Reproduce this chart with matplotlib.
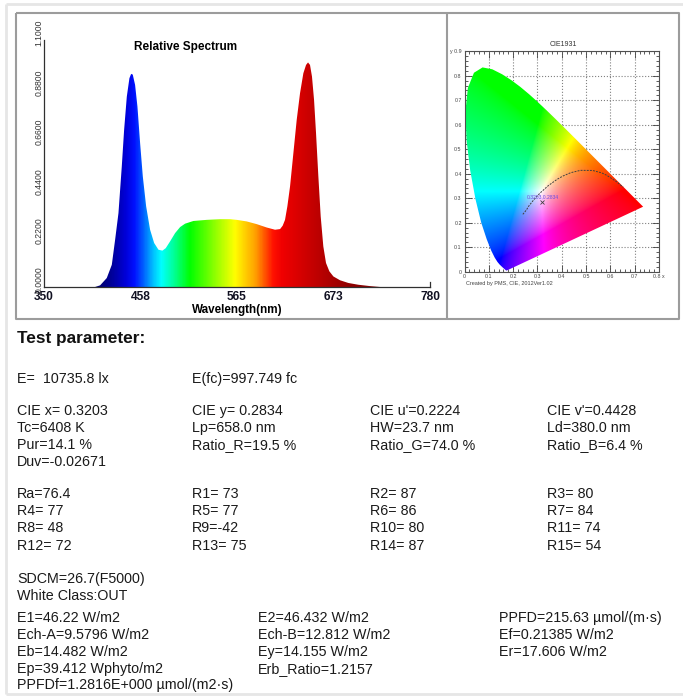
import numpy as np
import matplotlib
matplotlib.use('Agg')
import matplotlib.pyplot as plt
from matplotlib.colors import LinearSegmentedColormap
from matplotlib.patches import Polygon
from matplotlib.lines import Line2D

plt.rcParams['font.family'] = ['Liberation Sans', 'DejaVu Sans']

# ---------------- data ----------------
WL = [350, 407.4, 413.0, 420.4, 426.0, 429.7, 433.4, 437.1, 439.7, 442.7, 445.6, 447.5, 449.3,
      451.9, 454.5, 457.5, 460.5, 464.2, 468.6, 473.1, 477.9, 482.3, 486.0, 490.8, 496.4,
      502.0, 507.5, 516.8, 531.6, 546.4, 557.6, 565.0, 576.1, 587.2, 598.3, 607.6, 613.2,
      616.1, 618.7, 621.3, 624.3, 628.0, 631.7, 635.4, 639.1, 642.1, 644.3, 646.5, 648.7,
      651.0, 653.2, 655.8, 658.4, 661.3, 664.3, 668.0, 672.5, 679.9, 689.1, 700.3, 713.2,
      724.4, 780]
REL = [0, 0, 0.0074, 0.040, 0.099, 0.211, 0.329, 0.537, 0.700, 0.848, 0.930, 0.949, 0.946,
       0.900, 0.804, 0.640, 0.492, 0.359, 0.255, 0.196, 0.166, 0.162, 0.173, 0.203, 0.240,
       0.267, 0.282, 0.294, 0.299, 0.302, 0.302, 0.299, 0.292, 0.280, 0.265, 0.255, 0.258,
       0.273, 0.299, 0.359, 0.448, 0.596, 0.744, 0.863, 0.952, 0.989, 1.0, 0.989, 0.937,
       0.833, 0.685, 0.492, 0.314, 0.181, 0.107, 0.070, 0.047, 0.030, 0.018, 0.010, 0.004,
       0, 0]
X_TICKS = [350, 458, 565, 673, 780]
Y_TICKS = [0.0, 0.22, 0.44, 0.66, 0.88, 1.1]
Y_TICK_LABELS = ['0.0000', '0.2200', '0.4400', '0.6600', '0.8800', '1.1000']

# wavelength colour stops of the spectrum fill
CW = [350, 410, 425, 440, 450, 460, 470, 480, 495, 512, 540, 562, 585, 605, 615, 640, 665, 690, 720, 780]
CC = ['#000060', '#000070', '#00009a', '#0000d8', '#0010ff', '#0060ff', '#00b8ff', '#00ffff',
      '#00ff90', '#00ff00', '#90ff00', '#ffff00', '#ffa000', '#ff1000', '#f00000', '#d00000',
      '#b00000', '#900000', '#800000', '#700000']

# CIE 1931 spectral locus (x, y)
LOCUS_X = [0.1741, 0.1733, 0.1726, 0.1714, 0.1689, 0.1644, 0.1566, 0.1440, 0.1355, 0.1241,
           0.1096, 0.0913, 0.0687, 0.0454, 0.0235, 0.0082, 0.0039, 0.0139, 0.0389, 0.0743,
           0.1142, 0.1547, 0.1929, 0.2296, 0.2658, 0.3016, 0.3373, 0.3731, 0.4087, 0.4441,
           0.4788, 0.5125, 0.5448, 0.5752, 0.6029, 0.6270, 0.6658, 0.6915, 0.7079, 0.7190,
           0.7260, 0.7300, 0.7334, 0.7347]
LOCUS_Y = [0.0050, 0.0048, 0.0048, 0.0051, 0.0069, 0.0109, 0.0177, 0.0297, 0.0399, 0.0578,
           0.0868, 0.1327, 0.2007, 0.2950, 0.4127, 0.5384, 0.6548, 0.7502, 0.8120, 0.8338,
           0.8262, 0.8059, 0.7816, 0.7543, 0.7243, 0.6923, 0.6589, 0.6245, 0.5896, 0.5547,
           0.5202, 0.4866, 0.4544, 0.4242, 0.3965, 0.3725, 0.3340, 0.3083, 0.2920, 0.2809,
           0.2740, 0.2700, 0.2666, 0.2653]
# Planckian locus (x, y)
PLANCK_X = [0.2399, 0.2548, 0.2637, 0.2807, 0.2952, 0.3135, 0.3451, 0.3805, 0.4053, 0.4369,
            0.4770, 0.5267, 0.5643, 0.5857, 0.6251, 0.6528]
PLANCK_Y = [0.2341, 0.2522, 0.2672, 0.2884, 0.3048, 0.3236, 0.3516, 0.3768, 0.3907, 0.4041,
            0.4137, 0.4133, 0.4034, 0.3931, 0.3674, 0.3445]
POINT_X, POINT_Y = 0.3203, 0.2834
CIE_TICKS_X = [0, 0.1, 0.2, 0.3, 0.4, 0.5, 0.6, 0.7, 0.8]
CIE_TICKS_Y = [0, 0.1, 0.2, 0.3, 0.4, 0.5, 0.6, 0.7, 0.8, 0.9]
CIE_LABELS_X = ['0', '0.1', '0.2', '0.3', '0.4', '0.5', '0.6', '0.7', '0.8 x']
CIE_LABELS_Y = ['0', '0.1', '0.2', '0.3', '0.4', '0.5', '0.6', '0.7', '0.8', 'y 0.9']

HEADER = 'Test parameter:'
ROW_E = ['E=  10735.8 lx', 'E(fc)=997.749 fc']
CIE_ROWS = [['CIE x= 0.3203', 'CIE y= 0.2834', "CIE u'=0.2224", "CIE v'=0.4428"],
            ['Tc=6408 K', 'Lp=658.0 nm', 'HW=23.7 nm', 'Ld=380.0 nm'],
            ['Pur=14.1 %', 'Ratio_R=19.5 %', 'Ratio_G=74.0 %', 'Ratio_B=6.4 %'],
            ['Duv=-0.02671']]
CRI_ROWS = [['Ra=76.4', 'R1= 73', 'R2= 87', 'R3= 80'],
            ['R4= 77', 'R5= 77', 'R6= 86', 'R7= 84'],
            ['R8= 48', 'R9=-42', 'R10= 80', 'R11= 74'],
            ['R12= 72', 'R13= 75', 'R14= 87', 'R15= 54']]
SDCM_ROWS = ['SDCM=26.7(F5000)', 'White Class:OUT']
RAD_ROWS = [['E1=46.22 W/m2', 'E2=46.432 W/m2', 'PPFD=215.63 \u00b5mol/(m\u00b7s)'],
            ['Ech-A=9.5796 W/m2', 'Ech-B=12.812 W/m2', 'Ef=0.21385 W/m2'],
            ['Eb=14.482 W/m2', 'Ey=14.155 W/m2', 'Er=17.606 W/m2'],
            ['Ep=39.412 Wphyto/m2', 'Erb_Ratio=1.2157'],
            ['PPFDf=1.2816E+000 \u00b5mol/(m2\u00b7s)']]

# ---------------- figure ----------------
W, H = 683, 696
fig = plt.figure(figsize=(W / 100, H / 100), dpi=100)
fig.patch.set_facecolor('white')


def fx(px):
    return px / W


def fy(py):
    return 1 - py / H


def fline(xs, ys, color, lw):
    fig.add_artist(Line2D([fx(v) for v in xs], [fy(v) for v in ys], color=color, lw=lw,
                          transform=fig.transFigure, solid_capstyle='butt'))


# outer light frame
fline([6, 6], [4, 694], '#e6e6e6', 2)
fline([6, 683], [4, 4], '#e6e6e6', 2)
fline([6, 683], [694, 694], '#e6e6e6', 2)
# top box
fline([15.5, 679, 679, 15.5, 15.5], [12.5, 12.5, 319, 319, 12.5], '#9c9c9c', 1.5)
fline([447, 447], [12.5, 319], '#9c9c9c', 1.5)

# ---------------- spectrum ----------------
ax = fig.add_axes([fx(43.5), fy(287), (430 - 43.5) / W, (287 - 40) / H])
ax.set_xlim(350, 780)
ax.set_ylim(0, 1.1)
cmap = LinearSegmentedColormap.from_list('spec', [((w - 350) / 430, c) for w, c in zip(CW, CC)])
grad = cmap(np.linspace(0, 1, 860))[None, :, :]
verts = list(zip(WL, REL)) + [(WL[-1], 0), (WL[0], 0)]
patch = Polygon(verts, closed=True, facecolor='none', edgecolor='none', transform=ax.transData)
ax.add_patch(patch)
im = ax.imshow(grad, extent=[350, 780, 0, 1.1], aspect='auto', origin='lower', interpolation='bilinear')
im.set_clip_path(patch)
for s in ['top', 'right']:
    ax.spines[s].set_visible(False)
for s in ['left', 'bottom']:
    ax.spines[s].set_color('#303030')
    ax.spines[s].set_linewidth(0.9)
ax.set_xticks(X_TICKS)
ax.set_xticklabels([str(t) for t in X_TICKS], fontsize=8.6, fontweight='bold', color='#111122')
ax.tick_params(axis='x', length=0, pad=3)
ax.set_yticks([])
for v, lab in zip(Y_TICKS, Y_TICK_LABELS):
    ax.annotate(lab, xy=(0, v), xycoords=('axes fraction', 'data'), xytext=(-3.3, 5),
                textcoords='offset points', rotation=90, ha='center', va='center',
                fontsize=6.2, color='#333333', annotation_clip=False)
ax.add_line(Line2D([780, 780], [0, 0.022], color='#303030', lw=0.9, clip_on=False))
fig.text(fx(186), fy(47), 'Relative Spectrum', ha='center', va='center', fontsize=8.5, fontweight='bold')
fig.text(fx(237), fy(309.5), 'Wavelength(nm)', ha='center', va='center', fontsize=8.4, fontweight='bold')

# ---------------- CIE 1931 ----------------
cax = fig.add_axes([fx(464.5), fy(271.7), (659 - 464.5) / W, (271.7 - 51.2) / H])
cax.set_xlim(0, 0.8)
cax.set_ylim(0, 0.9)
cax.set_axisbelow(True)
gx = np.linspace(0, 0.8, 320)
gy = np.linspace(0, 0.9, 360)
GX, GY = np.meshgrid(gx, gy)
GYc = np.clip(GY, 1e-3, None)
XX = GX / GYc
ZZ = (1 - GX - GY) / GYc
R = 3.2406 * XX - 1.5372 - 0.4986 * ZZ
G = -0.9689 * XX + 1.8758 + 0.0415 * ZZ
B = 0.0557 * XX - 0.2040 + 1.0570 * ZZ
rgb = np.clip(np.dstack([R, G, B]), 0, None)
rgb = rgb / np.clip(rgb.max(axis=2, keepdims=True), 1e-6, None)
rgb = np.clip(np.power(rgb, 1 / 1.5), 0, 1)
locus = Polygon(list(zip(LOCUS_X, LOCUS_Y)), closed=True, facecolor='none', edgecolor='none',
                transform=cax.transData)
cax.add_patch(locus)
cim = cax.imshow(rgb, extent=[0, 0.8, 0, 0.9], origin='lower', aspect='auto', interpolation='bilinear', zorder=2)
cim.set_clip_path(locus)
cax.grid(True, linestyle=':', color='#808080', lw=0.8)
cax.plot(PLANCK_X, PLANCK_Y, linestyle=(0, (2, 1.2)), color='#404040', lw=0.7, zorder=3)
cax.plot([POINT_X], [POINT_Y], marker='x', ms=2.5, mew=0.6, color='#404040', zorder=4)
cax.text(POINT_X, POINT_Y + 0.022, f'{POINT_X},{POINT_Y}', ha='center', va='center', fontsize=3.6,
         color='#6a50e0', zorder=4)
cax.set_xticks(CIE_TICKS_X)
cax.set_yticks(CIE_TICKS_Y)
cax.set_xticklabels(CIE_LABELS_X)
cax.set_yticklabels(CIE_LABELS_Y)
cax.set_xticks(np.arange(0, 0.81, 0.02), minor=True)
cax.set_yticks(np.arange(0, 0.91, 0.02), minor=True)
cax.tick_params(which='both', direction='in', top=True, right=True, color='#404040', width=0.6,
                labelsize=3.8, labelcolor='#444444', pad=2)
cax.tick_params(which='major', length=5)
cax.tick_params(which='minor', length=2.5)
for s in cax.spines.values():
    s.set_color('#505050')
    s.set_linewidth(0.8)
fig.text(fx(563), fy(44), 'CIE1931', ha='center', va='center', fontsize=5, color='#333333')
fig.text(fx(466), fy(284), 'Created by PMS, CIE, 2012Ver1.02', ha='left', va='center', fontsize=4,
         color='#444444')

# ---------------- parameters text ----------------
TXT = dict(fontsize=10.3, color='#1a1a1a', ha='left', va='baseline')
BL = 5.2  # baseline offset below the visual centre line (px)
fig.text(fx(17), fy(337 + 6.2), HEADER, fontsize=12.4, fontweight='bold', color='#111111',
         ha='left', va='baseline')
COL4 = [17, 192, 370, 547]
COL3 = [17, 258, 499]
for x, s in zip(COL4, ROW_E):
    fig.text(fx(x), fy(378 + BL), s, **TXT)
for row, y in zip(CIE_ROWS, [410, 427, 444, 460.5]):
    for x, s in zip(COL4, row):
        fig.text(fx(x), fy(y + BL), s, **TXT)
for row, y in zip(CRI_ROWS, [493, 510, 527, 545]):
    for x, s in zip(COL4, row):
        fig.text(fx(x), fy(y + BL), s, **TXT)
for s, y in zip(SDCM_ROWS, [578, 595]):
    fig.text(fx(17), fy(y + BL), s, **TXT)
for row, y in zip(RAD_ROWS, [617, 634, 650.5, 667.5, 684]):
    for x, s in zip(COL3, row):
        fig.text(fx(x), fy(y + BL), s, **TXT)

fig.savefig('out.png', dpi=100, facecolor='white')
